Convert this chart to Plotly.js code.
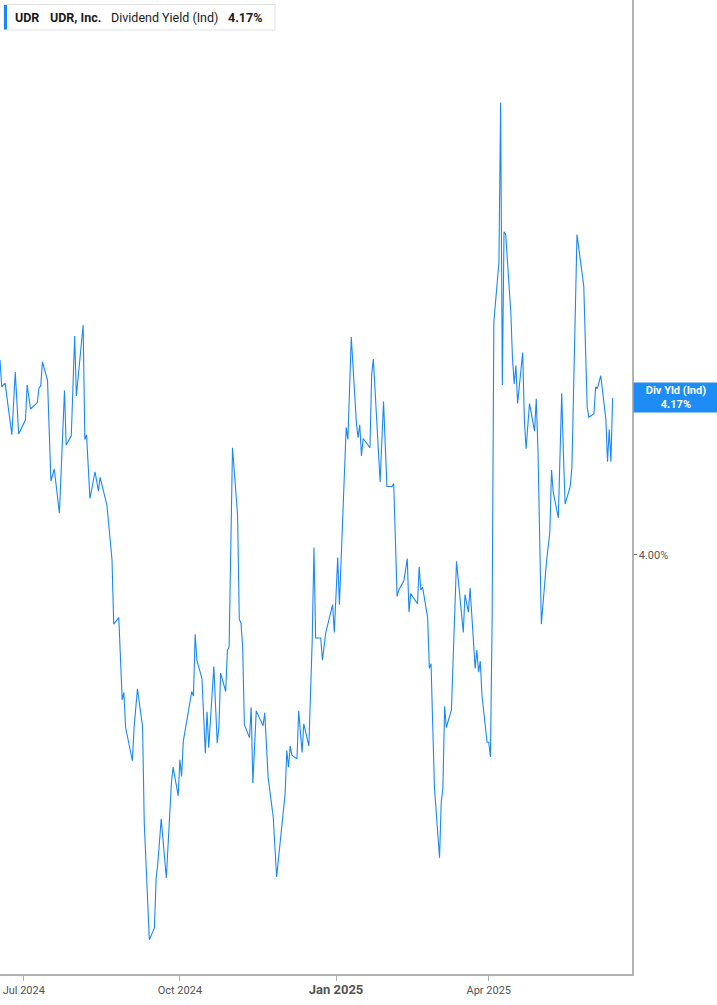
<!DOCTYPE html>
<html>
<head>
<meta charset="utf-8">
<script src="https://cdn.plot.ly/plotly-3.0.1.min.js"></script>
<style>
  html, body { margin: 0; padding: 0; background: #fff; }
  #chart { width: 717px; height: 1005px; }
</style>
</head>
<body>
<div id="chart"></div>
<script>
/* UDR dividend yield (indicated), daily line with right-side axis */

// Datos
const dates = [
  '2024-06-17','2024-06-18','2024-06-20','2024-06-24','2024-06-26','2024-06-28',
  '2024-07-02','2024-07-03','2024-07-05','2024-07-09','2024-07-10','2024-07-11','2024-07-12','2024-07-15','2024-07-17','2024-07-19','2024-07-22','2024-07-25','2024-07-26','2024-07-29','2024-07-31',
  '2024-08-01','2024-08-05','2024-08-06','2024-08-07','2024-08-09','2024-08-12','2024-08-14','2024-08-15','2024-08-19','2024-08-22','2024-08-23','2024-08-26','2024-08-28','2024-08-29','2024-08-30',
  '2024-09-03','2024-09-04','2024-09-06','2024-09-09','2024-09-10','2024-09-13','2024-09-16','2024-09-17','2024-09-18','2024-09-20','2024-09-23','2024-09-26','2024-09-27','2024-09-30',
  '2024-10-01','2024-10-02','2024-10-03','2024-10-08','2024-10-09','2024-10-10','2024-10-11','2024-10-14','2024-10-16','2024-10-17','2024-10-18','2024-10-21','2024-10-23','2024-10-24','2024-10-25','2024-10-28','2024-10-29','2024-10-30',
  '2024-11-01','2024-11-04','2024-11-05','2024-11-06','2024-11-07','2024-11-08','2024-11-11','2024-11-12','2024-11-13','2024-11-15','2024-11-19','2024-11-20','2024-11-22','2024-11-25','2024-11-27',
  '2024-12-02','2024-12-03','2024-12-04','2024-12-05','2024-12-06','2024-12-09','2024-12-10','2024-12-12','2024-12-13','2024-12-16','2024-12-18','2024-12-19','2024-12-20','2024-12-23','2024-12-24','2024-12-26','2024-12-30','2024-12-31',
  '2025-01-02','2025-01-03','2025-01-06','2025-01-07','2025-01-08','2025-01-10','2025-01-13','2025-01-14','2025-01-15','2025-01-16','2025-01-17','2025-01-21','2025-01-22','2025-01-23','2025-01-27','2025-01-29','2025-01-31',
  '2025-02-03','2025-02-04','2025-02-06','2025-02-07','2025-02-10','2025-02-12','2025-02-13','2025-02-14','2025-02-18','2025-02-19','2025-02-20','2025-02-21','2025-02-24','2025-02-25','2025-02-26','2025-02-28',
  '2025-03-03','2025-03-04','2025-03-05','2025-03-06','2025-03-07','2025-03-10','2025-03-13','2025-03-17','2025-03-18','2025-03-20','2025-03-21','2025-03-24','2025-03-25','2025-03-26','2025-03-27','2025-03-28','2025-03-31',
  '2025-04-01','2025-04-02','2025-04-03','2025-04-04','2025-04-07','2025-04-08','2025-04-09','2025-04-10','2025-04-11','2025-04-14','2025-04-15','2025-04-16','2025-04-17','2025-04-18','2025-04-21','2025-04-22','2025-04-23','2025-04-25','2025-04-28','2025-04-29','2025-04-30',
  '2025-05-02','2025-05-05','2025-05-07','2025-05-08','2025-05-09','2025-05-12','2025-05-14','2025-05-15','2025-05-16','2025-05-19','2025-05-20','2025-05-23','2025-05-27','2025-05-29','2025-05-30',
  '2025-06-02','2025-06-03','2025-06-04','2025-06-06','2025-06-09','2025-06-10','2025-06-11','2025-06-12','2025-06-13'
];

const yields = [
  4.211,4.182,4.186,4.130,4.198,4.131,
  4.146,4.184,4.158,4.165,4.181,4.183,4.209,4.189,4.080,4.093,4.045,4.178,4.119,4.129,4.237,
  4.172,4.249,4.125,4.130,4.061,4.090,4.069,4.084,4.054,3.995,3.925,3.932,3.843,3.851,3.813,
  3.777,3.813,3.855,3.814,3.710,3.583,3.596,3.650,3.666,3.714,3.650,3.753,3.770,3.739,
  3.778,3.760,3.798,3.852,3.847,3.914,3.886,3.866,3.785,3.830,3.791,3.879,3.796,3.814,3.872,3.852,3.897,3.900,
  4.116,4.043,3.930,3.926,3.900,3.816,3.802,3.835,3.753,3.831,3.815,3.829,3.759,3.716,3.651,
  3.741,3.788,3.770,3.793,3.783,3.779,3.831,3.786,3.817,3.793,3.909,4.008,3.910,3.910,3.886,3.916,3.946,3.916,
  3.997,3.946,4.095,4.138,4.125,4.236,4.143,4.127,4.141,4.107,4.126,4.116,4.195,4.212,4.079,4.166,4.074,
  4.074,4.077,3.955,3.962,3.972,3.996,3.938,3.958,3.947,3.987,3.962,3.965,3.932,3.877,3.882,3.748,
  3.672,3.732,3.748,3.836,3.813,3.832,3.993,3.916,3.957,3.938,3.964,3.877,3.897,3.873,3.885,3.848,3.797,
  3.797,3.781,3.932,4.252,4.317,4.490,4.184,4.350,4.347,4.263,4.213,4.185,4.205,4.164,4.219,4.146,4.115,4.164,4.134,4.169,4.114,
  3.925,3.992,4.025,4.092,4.068,4.040,4.175,4.110,4.055,4.074,4.095,4.347,4.291,4.160,4.149,
  4.153,4.182,4.180,4.194,4.147,4.101,4.136,4.101,4.170
];

const xTickVals = ['2024-07-01', '2024-10-01', '2025-01-01', '2025-04-01'];
const xTickText = ['Jul 2024', 'Oct 2024', '<span style="font-size:13px"><b>Jan 2025</b></span>', 'Apr 2025'];
const yTickVals = [4.0];
const yTickText = ['4.00%'];

const ticker = 'UDR';
const company = 'UDR, Inc.';
const metric = 'Dividend Yield (Ind)';
const lastLabel = 'Div Yld (Ind)';

// Colores
const BLUE = '#1a88f8';
const AXIS = '#b2b2b2';
const TEXT = '#555';
const FONT = 'Roboto, "Liberation Sans", sans-serif';

// Plot area in px (for placing header items in paper coords)
const PW = 632, PH = 974;
const px = v => v / PW;
const py = v => 1 - v / PH;

const last = yields[yields.length - 1];
const lastTxt = last.toFixed(2) + '%';

const trace = {
  type: 'scatter', mode: 'lines',
  x: dates, y: yields,
  line: { color: BLUE, width: 1.1 },
  hoverinfo: 'skip', showlegend: false
};

// Cabecera tipo leyenda
function headerItem(text, x0, bold) {
  return {
    xref: 'paper', yref: 'paper', x: px(x0), y: py(17),
    xanchor: 'left', yanchor: 'middle', showarrow: false,
    text: bold ? '<b>' + text + '</b>' : text,
    font: { family: FONT, size: 12.5, color: '#1b1b1b' }
  };
}

const layout = {
  width: 717, height: 1005,
  margin: { l: 0, r: 85, t: 0, b: 31 },
  paper_bgcolor: '#fff', plot_bgcolor: '#fff',
  font: { family: FONT, color: TEXT },
  xaxis: {
    type: 'date',
    range: ['2024-06-17', '2025-06-24 10:00'],
    tickvals: xTickVals, ticktext: xTickText,
    tickfont: { size: 11, color: TEXT },
    ticks: 'outside', ticklen: 5, tickcolor: AXIS, tickwidth: 1,
    showline: true, linecolor: AXIS, linewidth: 2,
    showgrid: false, zeroline: false, fixedrange: true
  },
  yaxis: {
    side: 'right',
    range: [3.546, 4.601],
    tickvals: yTickVals, ticktext: yTickText,
    tickfont: { size: 11, color: TEXT },
    ticks: 'outside', ticklen: 3, tickcolor: '#666', tickwidth: 1,
    showline: true, linecolor: AXIS, linewidth: 1.5,
    showgrid: false, zeroline: false, fixedrange: true
  },
  shapes: [
    { type: 'rect', xref: 'paper', yref: 'paper', x0: px(4), x1: px(275), y0: py(30), y1: py(4.5),
      line: { color: '#e2e2e2', width: 1 }, fillcolor: '#fff', layer: 'below' },
    { type: 'rect', xref: 'paper', yref: 'paper', x0: px(4), x1: px(7), y0: py(29.5), y1: py(5),
      line: { width: 0 }, fillcolor: BLUE }
  ],
  annotations: [
    headerItem(ticker, 12.5, true),
    headerItem(company, 48, true),
    headerItem(metric, 109, false),
    headerItem(lastTxt, 226, true),
    {
      xref: 'paper', yref: 'y', x: 1, y: last, xshift: 1,
      xanchor: 'left', yanchor: 'middle', showarrow: false,
      text: '<b>' + lastLabel + '</b><br><b>' + lastTxt + '</b>',
      font: { family: FONT, size: 11, color: '#fff' },
      bgcolor: '#1e8cf5', borderpad: 2, width: 80, height: 25, align: 'center'
    }
  ]
};

Plotly.newPlot('chart', [trace], layout, { displayModeBar: false, staticPlot: true });
</script>
</body>
</html>
